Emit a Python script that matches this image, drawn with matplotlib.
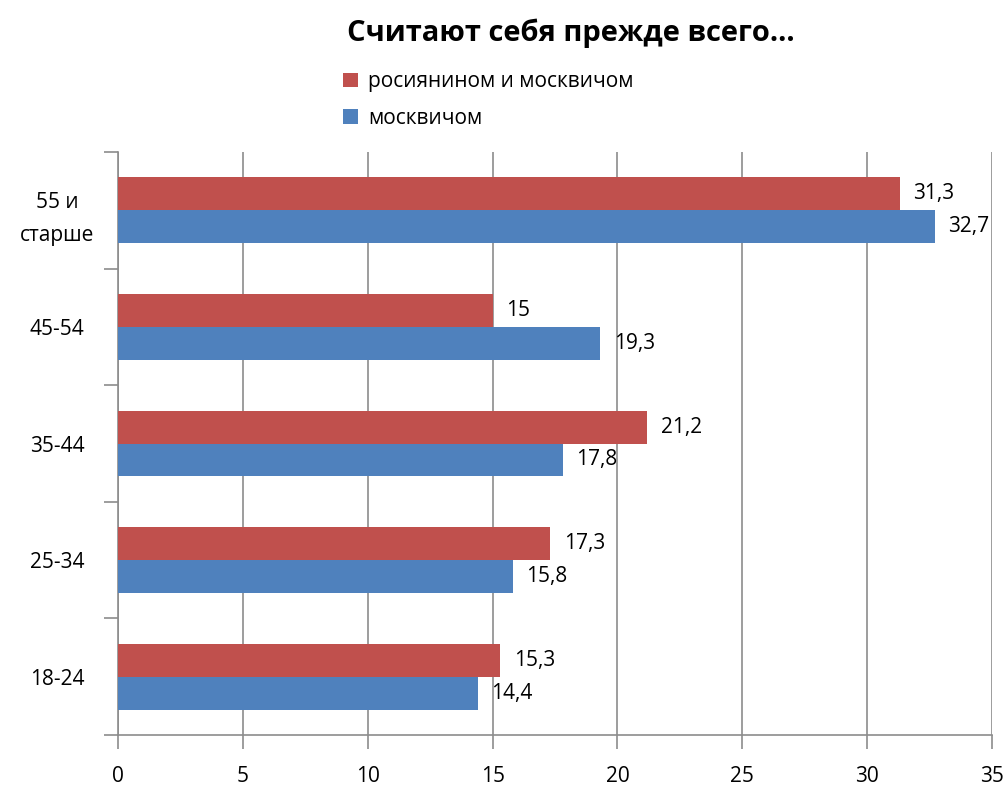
import matplotlib.pyplot as plt
import numpy as np

plt.rcParams["font.family"] = ["Open Sans", "DejaVu Sans"]

categories = ["18-24", "25-34", "35-44", "45-54", "55 и\nстарше"]
both = [15.3, 17.3, 21.2, 15, 31.3]      # росиянином и москвичом
moscow = [14.4, 15.8, 17.8, 19.3, 32.7]  # москвичом
series_names = ["росиянином и москвичом", "москвичом"]
colors = ["#c0504d", "#4f81bd"]


def fmt(v):
    s = ("%g" % v).replace(".", ",")
    return s


fig = plt.figure(figsize=(10.06, 7.86), dpi=100)
ax = fig.add_axes([0.1173, 0.0649, 0.8688, 0.7417])

y = np.arange(len(categories))
h = 0.283
b1 = ax.barh(y + h / 2, both, height=h, color=colors[0], label=series_names[0], zorder=3)
b2 = ax.barh(y - h / 2, moscow, height=h, color=colors[1], label=series_names[1], zorder=3)

for bars, vals in [(b1, both), (b2, moscow)]:
    for bar, v in zip(bars, vals):
        ax.text(v + 0.55, bar.get_y() + bar.get_height() / 2, fmt(v),
                va="center", ha="left", fontsize=15, zorder=4)

ax.set_xlim(0, 35)
ax.set_ylim(-0.5, len(categories) - 0.5)
ax.set_xticks(np.arange(0, 36, 5))
ax.xaxis.grid(True, color="#8c8c8c", linewidth=1.2, zorder=0)

ax.set_yticks(y)
ax.set_yticklabels(categories, fontsize=15, ha="center", linespacing=1.75)
ax.tick_params(axis="y", which="major", length=0, pad=44)
ax.set_yticks(np.arange(-0.5, len(categories), 1), minor=True)
ax.tick_params(axis="y", which="minor", length=10, width=1.2, color="#8c8c8c")
ax.tick_params(axis="x", length=10, width=1.2, color="#8c8c8c", labelsize=15, pad=12)

for side in ["top", "right"]:
    ax.spines[side].set_visible(False)
for side in ["left", "bottom"]:
    ax.spines[side].set_color("#8c8c8c")
    ax.spines[side].set_linewidth(1.2)

fig.text(0.567, 0.958, "Считают себя прежде всего...", ha="center", va="center",
         fontsize=21, fontweight="bold")

fig.legend(handles=[b1, b2], loc="upper left", bbox_to_anchor=(0.333, 0.92),
           frameon=False, fontsize=15, handlelength=0.7, handleheight=0.7,
           handletextpad=0.5, labelspacing=0.75, borderaxespad=0)

fig.savefig("out.png", dpi=100)
